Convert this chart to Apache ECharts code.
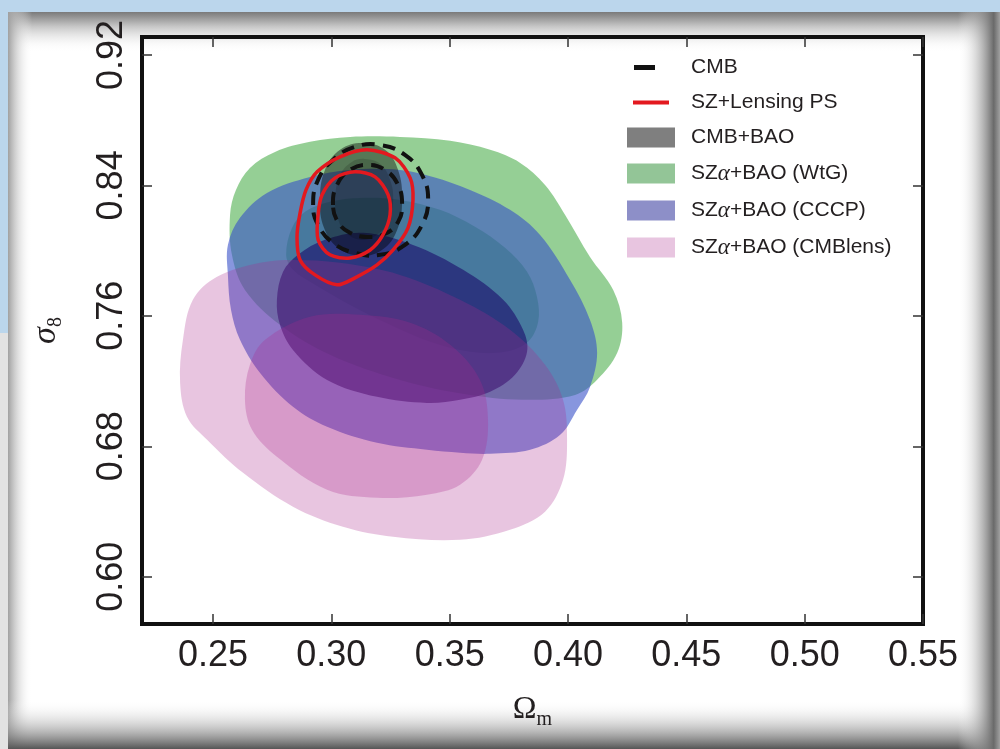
<!DOCTYPE html>
<html><head><meta charset="utf-8">
<script src="https://cdn.jsdelivr.net/npm/echarts@6/dist/echarts.min.js"></script>
<style>html,body{margin:0;padding:0;width:1000px;height:749px;overflow:hidden;background:#bbd6ec}#c{width:1000px;height:749px}</style>
</head><body><div id="c"></div>
<script>
// ---- data ----
const xTicks = [0.25, 0.30, 0.35, 0.40, 0.45, 0.50, 0.55];
const yTicks = [0.60, 0.68, 0.76, 0.84, 0.92];
const legendNames = ['CMB', 'SZ+Lensing PS', 'CMB+BAO', 'SZα+BAO (WtG)', 'SZα+BAO (CCCP)', 'SZα+BAO (CMBlens)'];

const cmbOuter = [[0.2923,0.8280],[0.2944,0.8434],[0.3007,0.8556],[0.3100,0.8636],[0.3206,0.8648],[0.3311,0.8587],[0.3383,0.8464],[0.3409,0.8311],[0.3383,0.8158],[0.3311,0.8035],[0.3206,0.7974],[0.3100,0.7986],[0.3007,0.8047],[0.2944,0.8158]];
const cmbInner = [[0.3007,0.8280],[0.3024,0.8403],[0.3079,0.8495],[0.3155,0.8526],[0.3227,0.8495],[0.3282,0.8403],[0.3299,0.8280],[0.3282,0.8176],[0.3227,0.8103],[0.3151,0.8084],[0.3079,0.8109],[0.3028,0.8176]];
const szOuter = [[0.2868,0.8231],[0.2893,0.8372],[0.2940,0.8483],[0.3037,0.8575],[0.3151,0.8618],[0.3269,0.8569],[0.3333,0.8446],[0.3345,0.8311],[0.3324,0.8140],[0.3261,0.8004],[0.3193,0.7912],[0.3100,0.7833],[0.3024,0.7790],[0.2931,0.7851],[0.2868,0.7943],[0.2855,0.8084]];
const szInner = [[0.2944,0.8219],[0.2961,0.8342],[0.3016,0.8446],[0.3100,0.8483],[0.3185,0.8452],[0.3240,0.8342],[0.3248,0.8219],[0.3218,0.8096],[0.3164,0.8004],[0.3079,0.7955],[0.2994,0.7974],[0.2944,0.8066]];
const cmbBaoOuter = [[0.2952,0.8311],[0.2973,0.8495],[0.3037,0.8618],[0.3130,0.8660],[0.3227,0.8618],[0.3282,0.8495],[0.3299,0.8311],[0.3278,0.8127],[0.3214,0.8004],[0.3121,0.7968],[0.3028,0.8017],[0.2969,0.8140]];
const cmbBaoInner = [[0.3016,0.8323],[0.3037,0.8464],[0.3087,0.8544],[0.3142,0.8562],[0.3206,0.8532],[0.3248,0.8434],[0.3261,0.8311],[0.3240,0.8176],[0.3185,0.8090],[0.3121,0.8066],[0.3058,0.8115],[0.3024,0.8213]];
const wtgOuter = [[0.2572,0.8219],[0.2597,0.8372],[0.2656,0.8507],[0.2762,0.8605],[0.2910,0.8667],[0.3079,0.8697],[0.3290,0.8697],[0.3502,0.8673],[0.3671,0.8618],[0.3798,0.8538],[0.3903,0.8403],[0.3988,0.8219],[0.4093,0.7961],[0.4191,0.7759],[0.4229,0.7557],[0.4208,0.7373],[0.4123,0.7208],[0.4030,0.7115],[0.3840,0.7085],[0.3586,0.7115],[0.3290,0.7207],[0.2994,0.7361],[0.2783,0.7545],[0.2635,0.7759],[0.2580,0.7974]];
const wtgInner = [[0.2809,0.7974],[0.2834,0.8140],[0.2889,0.8238],[0.2994,0.8299],[0.3121,0.8323],[0.3290,0.8311],[0.3459,0.8250],[0.3607,0.8146],[0.3734,0.8017],[0.3827,0.7870],[0.3869,0.7716],[0.3874,0.7563],[0.3831,0.7441],[0.3734,0.7379],[0.3586,0.7379],[0.3417,0.7441],[0.3248,0.7545],[0.3079,0.7667],[0.2931,0.7790],[0.2838,0.7882]];
const cccpOuter = [[0.2563,0.8035],[0.2614,0.8201],[0.2728,0.8354],[0.2910,0.8452],[0.3079,0.8495],[0.3290,0.8495],[0.3430,0.8452],[0.3586,0.8372],[0.3755,0.8250],[0.3882,0.8096],[0.4009,0.7820],[0.4093,0.7575],[0.4123,0.7373],[0.4093,0.7164],[0.4038,0.7023],[0.3967,0.6870],[0.3840,0.6778],[0.3671,0.6754],[0.3544,0.6760],[0.3404,0.6778],[0.3193,0.6821],[0.2982,0.6919],[0.2838,0.7042],[0.2699,0.7250],[0.2614,0.7453],[0.2576,0.7637],[0.2563,0.7851]];
const cccpInner = [[0.2770,0.7698],[0.2796,0.7870],[0.2859,0.7974],[0.2973,0.8066],[0.3134,0.8109],[0.3345,0.8035],[0.3557,0.7882],[0.3726,0.7698],[0.3810,0.7514],[0.3827,0.7379],[0.3776,0.7238],[0.3671,0.7134],[0.3544,0.7085],[0.3404,0.7066],[0.3193,0.7103],[0.2982,0.7207],[0.2838,0.7391],[0.2783,0.7545]];
const lensOuter = [[0.2361,0.7189],[0.2373,0.7453],[0.2415,0.7698],[0.2517,0.7839],[0.2699,0.7925],[0.2838,0.7943],[0.3037,0.7925],[0.3290,0.7851],[0.3544,0.7698],[0.3755,0.7514],[0.3903,0.7300],[0.3979,0.7085],[0.3996,0.6840],[0.3979,0.6594],[0.3903,0.6399],[0.3755,0.6288],[0.3544,0.6226],[0.3261,0.6245],[0.3049,0.6306],[0.2838,0.6429],[0.2627,0.6637],[0.2475,0.6840],[0.2390,0.6981]];
const lensInner = [[0.2635,0.7085],[0.2656,0.7300],[0.2720,0.7453],[0.2910,0.7594],[0.3121,0.7606],[0.3333,0.7557],[0.3502,0.7422],[0.3628,0.7207],[0.3662,0.6962],[0.3637,0.6717],[0.3544,0.6564],[0.3404,0.6503],[0.3193,0.6484],[0.2982,0.6533],[0.2770,0.6735],[0.2665,0.6901]];

// ---- rendering ----
function contourSeries(name, levels, styles) {
  return {
    type: 'custom', name: name, coordinateSystem: 'cartesian2d', silent: true,
    data: levels.map(function (l) { return l[0]; }),
    renderItem: function (params, api) {
      var pts = levels[params.dataIndex].map(function (p) { return api.coord(p); });
      var st = styles[params.dataIndex];
      return {
        type: 'polygon',
        shape: { points: pts, smooth: st.smooth },
        style: { fill: st.fill || 'none', stroke: st.stroke || 'none', lineWidth: st.lineWidth || 0, lineDash: st.lineDash || null }
      };
    }
  };
}

var txt = '#231f20';
var legendIcons = [
  'path://M0,0L0,0M59,20L59,20M7,7.5L28,7.5L28,12.5L7,12.5Z',
  'path://M0,0L0,0M59,20L59,20M6,8L42,8L42,12L6,12Z',
  'path://M59,20L59,20M0,0L48,0L48,20L0,20Z',
  'path://M59,20L59,20M0,0L48,0L48,20L0,20Z',
  'path://M59,20L59,20M0,0L48,0L48,20L0,20Z',
  'path://M59,20L59,20M0,0L48,0L48,20L0,20Z'
];
var legendColors = ['#111111', '#e3191f', '#7f7f7f', '#93c597', '#8d8fc8', '#e8c5e0'];

var chart = echarts.init(document.getElementById('c'), null, { renderer: 'canvas' });
chart.setOption({
  animation: false,
  backgroundColor: 'transparent',
  graphic: [
    { type: 'rect', z: -20, shape: { x: 0, y: 0, width: 1000, height: 749 }, style: { fill: '#bbd6ec' } },
    { type: 'rect', z: -19, shape: { x: 0, y: 333, width: 8, height: 416 }, style: { fill: '#e2e2e2' } },
    { type: 'rect', z: -19, shape: { x: 8, y: 12, width: 992, height: 737 }, style: { fill: '#ffffff' } },
    { type: 'rect', z: -18, shape: { x: 8, y: 12, width: 992, height: 40 }, style: { fill: new echarts.graphic.LinearGradient(0, 0, 0, 1, [{ offset: 0, color: '#7a7a7a' }, { offset: 0.35, color: '#c4c4c4' }, { offset: 1, color: 'rgba(255,255,255,0)' }]) } },
    { type: 'rect', z: -18, shape: { x: 8, y: 12, width: 24, height: 737 }, style: { fill: new echarts.graphic.LinearGradient(0, 0, 1, 0, [{ offset: 0, color: '#a0a0a0' }, { offset: 1, color: 'rgba(255,255,255,0)' }]) } },
    { type: 'rect', z: -18, shape: { x: 8, y: 700, width: 992, height: 49 }, style: { fill: new echarts.graphic.LinearGradient(0, 0, 0, 1, [{ offset: 0, color: 'rgba(255,255,255,0)' }, { offset: 1, color: '#555555' }]) } },
    { type: 'rect', z: -18, shape: { x: 958, y: 12, width: 42, height: 737 }, style: { fill: new echarts.graphic.LinearGradient(0, 0, 1, 0, [{ offset: 0, color: 'rgba(255,255,255,0)' }, { offset: 0.85, color: '#6a6a6a' }, { offset: 1, color: '#a0a0a0' }]) } }
  ],
  grid: { left: 142, right: 77, top: 37, bottom: 125, show: true, borderColor: '#111', borderWidth: 4, backgroundColor: 'transparent' },
  xAxis: [{
    type: 'value', position: 'bottom', min: 0.22, max: 0.55,
    axisLine: { show: false }, splitLine: { show: false },
    axisTick: { inside: true, length: 10, lineStyle: { color: '#333', width: 1.5 }, customValues: xTicks },
    axisLabel: { customValues: xTicks, formatter: function (v) { return v.toFixed(2); }, fontSize: 36, fontFamily: 'Liberation Sans', color: txt, margin: 14 },
    name: '{a|Ω}{b|m}', nameLocation: 'middle', nameGap: 66,
    nameTextStyle: { rich: { a: { fontFamily: 'Liberation Serif', fontSize: 32, color: txt, lineHeight: 40 }, b: { fontFamily: 'Liberation Serif', fontSize: 20, color: txt, lineHeight: 24, verticalAlign: 'bottom' } } }
  }, {
    type: 'value', position: 'top', min: 0.22, max: 0.55,
    axisLine: { show: false }, splitLine: { show: false },
    axisTick: { inside: true, length: 10, lineStyle: { color: '#333', width: 1.5 }, customValues: xTicks },
    axisLabel: { show: false }
  }],
  yAxis: [{
    type: 'value', position: 'left', min: 0.571, max: 0.931,
    axisLine: { show: false }, splitLine: { show: false },
    axisTick: { inside: true, length: 10, lineStyle: { color: '#333', width: 1.5 }, customValues: yTicks },
    axisLabel: { customValues: yTicks, rotate: 90, formatter: function (v) { return v.toFixed(2); }, fontSize: 36, fontFamily: 'Liberation Sans', color: txt, margin: 12 },
    name: '{a|σ}{b|8}', nameLocation: 'middle', nameRotate: 90, nameGap: 76,
    nameTextStyle: { rich: { a: { fontFamily: 'Liberation Serif', fontStyle: 'italic', fontSize: 34, color: txt, lineHeight: 40 }, b: { fontFamily: 'Liberation Serif', fontSize: 20, color: txt, lineHeight: 24, verticalAlign: 'bottom' } } }
  }, {
    type: 'value', position: 'right', min: 0.571, max: 0.931,
    axisLine: { show: false }, splitLine: { show: false },
    axisTick: { inside: true, length: 10, lineStyle: { color: '#333', width: 1.5 }, customValues: yTicks },
    axisLabel: { show: false }
  }],
  legend: {
    orient: 'vertical', left: 627, top: 57, padding: 0, itemGap: 14, itemWidth: 59, itemHeight: 20,
    selectedMode: false,
    textStyle: {
      fontFamily: 'Liberation Sans', fontSize: 21, color: txt, lineHeight: 20,
      rich: {
        r: { fontFamily: 'Liberation Sans', fontSize: 21, color: txt, lineHeight: 20 },
        g: { fontFamily: 'Liberation Serif', fontStyle: 'italic', fontSize: 23, color: txt, lineHeight: 20 }
      }
    },
    formatter: function (n) {
      if (n.indexOf('SZα') === 0) { return '{r|SZ}{g|α}{r|' + n.slice(3) + '}'; }
      return '{r|' + n + '}';
    },
    data: legendNames.map(function (n, i) { return { name: n, icon: legendIcons[i], itemStyle: { color: legendColors[i], borderWidth: 0 } }; })
  },
  series: [
    contourSeries(legendNames[3], [wtgOuter, wtgInner], [{ fill: 'rgba(44,160,44,0.5)', smooth: 0.35 }, { fill: 'rgba(44,160,44,0.5)', smooth: 0.35 }]),
    contourSeries(legendNames[4], [cccpOuter, cccpInner], [{ fill: 'rgba(55,80,200,0.6)', smooth: 0.35 }, { fill: 'rgba(30,20,110,0.65)', smooth: 0.35 }]),
    contourSeries(legendNames[5], [lensOuter, lensInner], [{ fill: 'rgba(170,40,140,0.27)', smooth: 0.35 }, { fill: 'rgba(170,40,140,0.27)', smooth: 0.35 }]),
    contourSeries(legendNames[2], [cmbBaoOuter, cmbBaoInner], [{ fill: 'rgba(0,0,0,0.42)', smooth: 0.4 }, { fill: 'rgba(0,0,0,0.15)', smooth: 0.4 }]),
    contourSeries(legendNames[0], [cmbOuter, cmbInner], [{ stroke: '#111', lineWidth: 4, lineDash: [13, 8], smooth: 0.45 }, { stroke: '#111', lineWidth: 4, lineDash: [13, 8], smooth: 0.45 }]),
    contourSeries(legendNames[1], [szOuter, szInner], [{ stroke: '#e3191f', lineWidth: 3.5, smooth: 0.3 }, { stroke: '#e3191f', lineWidth: 3.5, smooth: 0.3 }])
  ]
});
</script></body></html>
